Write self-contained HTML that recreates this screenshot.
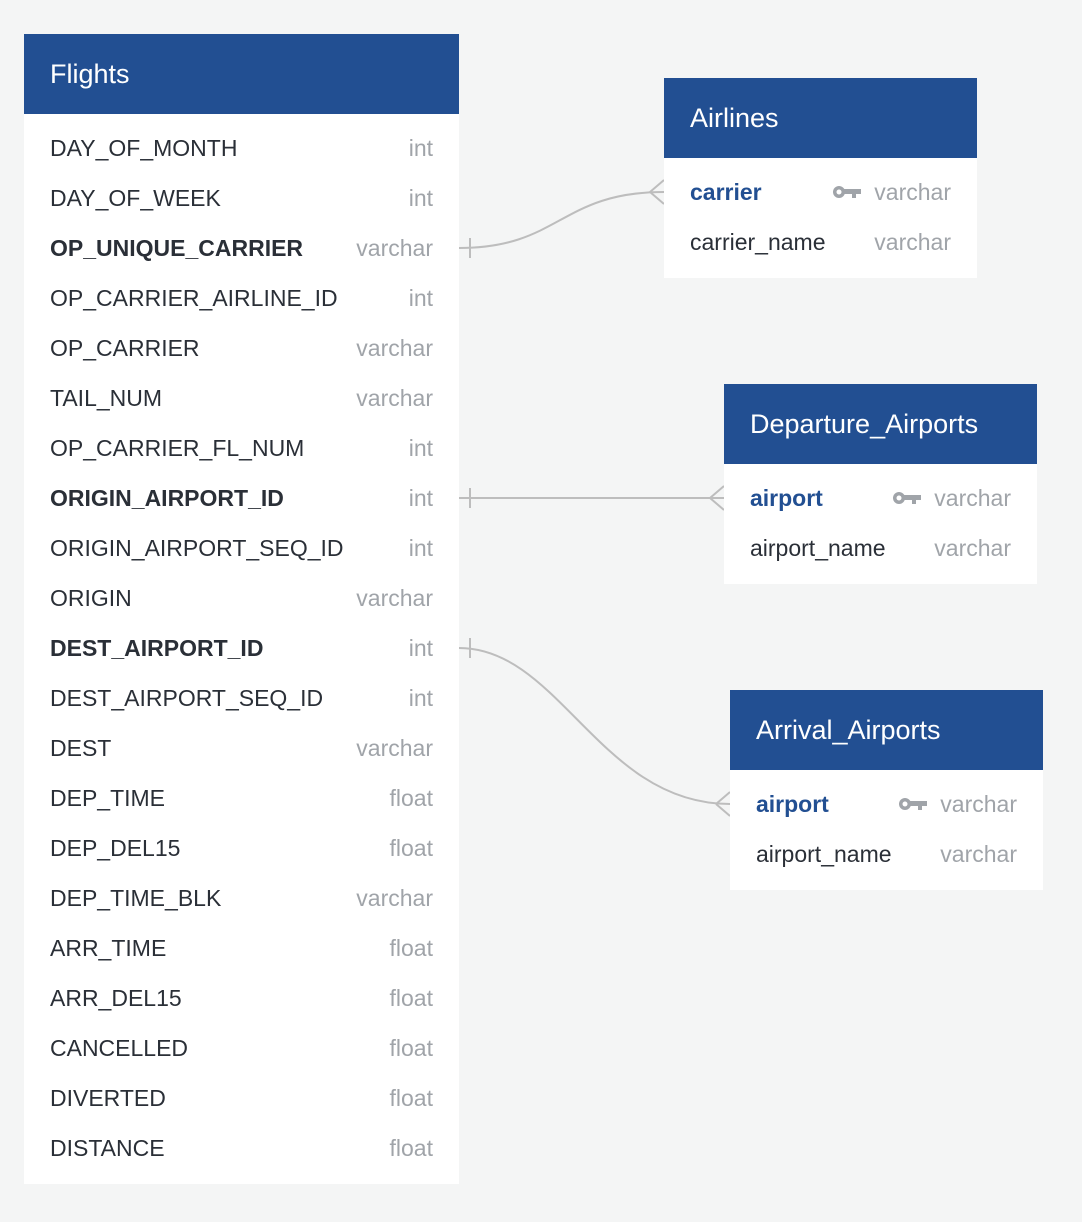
<!DOCTYPE html>
<html><head><meta charset="utf-8"><style>
html,body{margin:0;padding:0}
body{width:1082px;height:1222px;background:#f4f5f5;position:relative;overflow:hidden;font-family:"Liberation Sans",sans-serif}
.t{position:absolute;background:#fff}
.h{background:#224f92;color:#fff;height:80px;line-height:80px;padding-left:26px;font-size:27px}
.r{position:relative;height:50px;line-height:50px;padding-left:26px;font-size:23px;color:#2a2f37}
.r .ty{position:absolute;right:26px;top:0;color:#a0a4a9}
.b{font-weight:bold}
.pk{color:#224f92;font-weight:bold}
.key{position:absolute;top:17px}
svg.c{position:absolute;left:0;top:0}
</style></head><body>
<svg class="c" width="1082" height="1222">
<g fill="none" stroke="#bdbdbd" stroke-width="2">
<path d="M459 248 C560 248 560 192 664 192"/>
<line x1="470" y1="238" x2="470" y2="258"/>
<path d="M650 192 L664 180 M650 192 L664 204"/>
<line x1="459" y1="498" x2="724" y2="498"/>
<line x1="470" y1="488" x2="470" y2="508"/>
<path d="M710 498 L724 486 M710 498 L724 510"/>
<path d="M459 648 C560 648 600 804 730 804"/>
<line x1="470" y1="638" x2="470" y2="658"/>
<path d="M716 804 L730 792 M716 804 L730 816"/>
</g></svg>

<div class="t" style="left:24px;top:34px;width:435px;height:1150px">
<div class="h">Flights</div>
<div style="height:9px"></div>
<div class="r">DAY_OF_MONTH<span class="ty">int</span></div>
<div class="r">DAY_OF_WEEK<span class="ty">int</span></div>
<div class="r b">OP_UNIQUE_CARRIER<span class="ty" style="font-weight:normal">varchar</span></div>
<div class="r">OP_CARRIER_AIRLINE_ID<span class="ty">int</span></div>
<div class="r">OP_CARRIER<span class="ty">varchar</span></div>
<div class="r">TAIL_NUM<span class="ty">varchar</span></div>
<div class="r">OP_CARRIER_FL_NUM<span class="ty">int</span></div>
<div class="r b">ORIGIN_AIRPORT_ID<span class="ty" style="font-weight:normal">int</span></div>
<div class="r">ORIGIN_AIRPORT_SEQ_ID<span class="ty">int</span></div>
<div class="r">ORIGIN<span class="ty">varchar</span></div>
<div class="r b">DEST_AIRPORT_ID<span class="ty" style="font-weight:normal">int</span></div>
<div class="r">DEST_AIRPORT_SEQ_ID<span class="ty">int</span></div>
<div class="r">DEST<span class="ty">varchar</span></div>
<div class="r">DEP_TIME<span class="ty">float</span></div>
<div class="r">DEP_DEL15<span class="ty">float</span></div>
<div class="r">DEP_TIME_BLK<span class="ty">varchar</span></div>
<div class="r">ARR_TIME<span class="ty">float</span></div>
<div class="r">ARR_DEL15<span class="ty">float</span></div>
<div class="r">CANCELLED<span class="ty">float</span></div>
<div class="r">DIVERTED<span class="ty">float</span></div>
<div class="r">DISTANCE<span class="ty">float</span></div>
</div>

<div class="t" style="left:664px;top:78px;width:313px;height:200px">
<div class="h">Airlines</div>
<div style="height:9px"></div>
<div class="r pk">carrier<svg class="key" style="left:168px" width="30" height="16"><circle cx="7" cy="8" r="6" fill="#a0a4a9"/><circle cx="7" cy="8" r="2.5" fill="#fff"/><rect x="12" y="5" width="17" height="5" fill="#a0a4a9"/><rect x="20" y="9" width="4" height="5" fill="#a0a4a9"/></svg><span class="ty" style="font-weight:normal">varchar</span></div>
<div class="r">carrier_name<span class="ty">varchar</span></div>
</div>

<div class="t" style="left:724px;top:384px;width:313px;height:200px">
<div class="h">Departure_Airports</div>
<div style="height:9px"></div>
<div class="r pk">airport<svg class="key" style="left:168px" width="30" height="16"><circle cx="7" cy="8" r="6" fill="#a0a4a9"/><circle cx="7" cy="8" r="2.5" fill="#fff"/><rect x="12" y="5" width="17" height="5" fill="#a0a4a9"/><rect x="20" y="9" width="4" height="5" fill="#a0a4a9"/></svg><span class="ty" style="font-weight:normal">varchar</span></div>
<div class="r">airport_name<span class="ty">varchar</span></div>
</div>

<div class="t" style="left:730px;top:690px;width:313px;height:200px">
<div class="h">Arrival_Airports</div>
<div style="height:9px"></div>
<div class="r pk">airport<svg class="key" style="left:168px" width="30" height="16"><circle cx="7" cy="8" r="6" fill="#a0a4a9"/><circle cx="7" cy="8" r="2.5" fill="#fff"/><rect x="12" y="5" width="17" height="5" fill="#a0a4a9"/><rect x="20" y="9" width="4" height="5" fill="#a0a4a9"/></svg><span class="ty" style="font-weight:normal">varchar</span></div>
<div class="r">airport_name<span class="ty">varchar</span></div>
</div>
</body></html>
